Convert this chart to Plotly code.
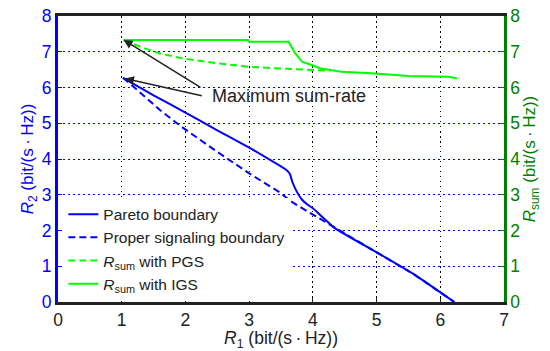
import plotly.graph_objects as go

# Pareto boundary (blue solid)
pareto_r1 = [1.02, 1.5, 2.0, 2.5, 3.0, 3.4, 3.58, 3.64, 3.68, 3.75, 3.83, 3.92, 4.0, 4.35, 4.98, 5.6, 6.22]
pareto_r2 = [6.27, 5.78, 5.3, 4.8, 4.32, 3.9, 3.7, 3.58, 3.35, 3.08, 2.86, 2.72, 2.62, 2.06, 1.41, 0.76, 0.0]

# Proper signaling boundary (blue dashed)
proper_r1 = [1.02, 1.2, 1.6, 1.94, 2.5, 3.0, 3.46, 3.67, 3.93, 4.19, 4.35, 4.98, 5.6, 6.22]
proper_r2 = [6.27, 6.0, 5.37, 4.9, 4.2, 3.6, 3.09, 2.8, 2.52, 2.25, 2.06, 1.41, 0.76, 0.0]

# Sum rate with PGS (green dashed)
pgs_r1 = [1.03, 1.29, 1.6, 1.97, 2.49, 2.99, 3.41, 3.98, 4.27]
pgs_sum = [7.33, 7.14, 6.95, 6.81, 6.68, 6.58, 6.54, 6.49, 6.47]

# Sum rate with IGS (green solid)
igs_r1 = [1.03, 2.98, 3.0, 3.62, 3.72, 3.83, 3.98, 4.11, 4.27, 4.45, 4.92, 5.5, 6.13, 6.26]
igs_sum = [7.33, 7.33, 7.28, 7.28, 6.96, 6.72, 6.63, 6.54, 6.49, 6.44, 6.4, 6.32, 6.3, 6.26]

x_ticks = [0, 1, 2, 3, 4, 5, 6, 7]
y_ticks = [0, 1, 2, 3, 4, 5, 6, 7, 8]

FONT = "Liberation Sans, Arial, sans-serif"
BLUE = "#0000ff"
LIME = "#00ff00"
DGREEN = "#008000"
UNIT = "(bit/(s\u2009·\u2009Hz))"

fig = go.Figure()
fig.add_trace(go.Scatter(x=pareto_r1, y=pareto_r2, mode="lines", name="Pareto boundary",
                         line=dict(color=BLUE, width=2, shape="spline", smoothing=0.4)))
fig.add_trace(go.Scatter(x=proper_r1, y=proper_r2, mode="lines", name="Proper signaling boundary",
                         line=dict(color=BLUE, width=2, dash="7px,4px")))
fig.add_trace(go.Scatter(x=pgs_r1, y=pgs_sum, mode="lines", yaxis="y2",
                         name="<i>R</i><sub>sum</sub> with PGS",
                         line=dict(color=LIME, width=2, dash="7px,4px")))
fig.add_trace(go.Scatter(x=igs_r1, y=igs_sum, mode="lines", yaxis="y2",
                         name="<i>R</i><sub>sum</sub> with IGS",
                         line=dict(color=LIME, width=2)))

# Arrows
for tip, tail in [((1.03, 7.33), (2.26, 5.98)), ((1.05, 6.25), (2.28, 5.76))]:
    fig.add_annotation(x=tip[0], y=tip[1], ax=tail[0], ay=tail[1], xref="x", yref="y",
                       axref="x", ayref="y", text="", showarrow=True, arrowhead=2,
                       arrowsize=1.2, arrowwidth=1.5, arrowcolor="#222222")
fig.add_annotation(x=3.63, y=5.76, xref="x", yref="y", text="Maximum sum-rate",
                   showarrow=False, font=dict(family=FONT, size=18, color="#222222"))

# page body has an 8px margin, so the figure is 8px smaller and offset
fig.update_layout(
    width=542, height=343,
    margin=dict(l=50, r=46, t=8, b=49),
    paper_bgcolor="white", plot_bgcolor="white",
    font=dict(family=FONT, size=15, color="#222222"),
    showlegend=True,
    legend=dict(x=0.012, y=0.365, xanchor="left", yanchor="top",
                bgcolor="white", borderwidth=0,
                font=dict(family=FONT, size=15.5, color="#222222"),
                tracegroupgap=0),
    xaxis=dict(range=[0, 7], tickvals=x_ticks, showgrid=True, gridcolor="black",
               griddash="1.5px,3.5px", gridwidth=1, zeroline=False, showline=True,
               linecolor="#222222", linewidth=2.5, mirror=True, ticks="inside",
               ticklen=4, tickcolor="#222222", automargin=False,
               ticklabeloverflow="allow",
               tickfont=dict(size=17.5, color="#222222"),
               title=dict(text="<i>R</i><sub>1</sub> " + UNIT, standoff=4,
                          font=dict(size=17.5, color="#222222"))),
    yaxis=dict(range=[0, 8], tickvals=y_ticks, showgrid=True, gridcolor=BLUE,
               griddash="1.5px,3.5px", gridwidth=1, zeroline=False, showline=True,
               linecolor=BLUE, linewidth=3, ticks="inside", ticklen=4, tickcolor=BLUE,
               automargin=False, ticklabeloverflow="allow",
               tickfont=dict(size=17.5, color=BLUE),
               title=dict(text="<i>R</i><sub>2</sub> " + UNIT, standoff=4,
                          font=dict(size=17, color=BLUE))),
    yaxis2=dict(range=[0, 8], tickvals=y_ticks, overlaying="y", side="right",
                showgrid=False, zeroline=False, showline=True, linecolor=DGREEN,
                linewidth=2.5, ticks="inside", ticklen=4, tickcolor=DGREEN,
                automargin=False, ticklabeloverflow="allow",
                tickfont=dict(size=17.5, color=DGREEN),
                title=dict(text="<i>R</i><sub>sum</sub> " + UNIT, standoff=4,
                           font=dict(size=17, color=DGREEN))),
)

fig.write_html("out.html")
